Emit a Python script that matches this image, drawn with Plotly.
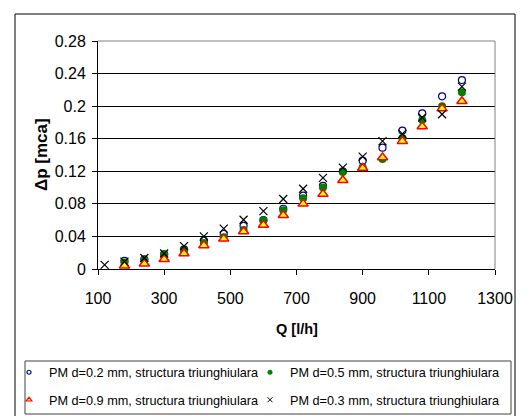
import plotly.graph_objects as go

# ---- data ----
Q = [120, 180, 240, 300, 360, 420, 480, 540, 600, 660, 720, 780, 840, 900, 960, 1020, 1080, 1140, 1200]

dp_02 = [None, 0.010, 0.012, 0.018, 0.024, 0.035, 0.043, 0.053, 0.060, 0.074, 0.090, 0.102,
         0.120, 0.133, 0.149, 0.170, 0.191, 0.212, 0.232]
dp_05 = [None, 0.008, 0.011, 0.018, 0.023, 0.032, 0.039, 0.048, 0.060, 0.072, 0.087, 0.100,
         0.119, 0.125, 0.135, 0.161, 0.183, 0.200, 0.217]
dp_09 = [None, 0.004, 0.0065, 0.012, 0.019, 0.029, 0.037, 0.046, 0.054, 0.066, 0.080, 0.092,
         0.109, 0.124, 0.137, 0.157, 0.175, 0.197, 0.206]
dp_03 = [0.005, 0.009, 0.0135, 0.019, 0.028, 0.040, 0.0495, 0.0605, 0.071, 0.086, 0.0985, 0.112,
         0.1245, 0.138, 0.157, 0.166, 0.186, 0.190, 0.224]

names = ["PM d=0.2 mm, structura triunghiulara",
         "PM d=0.5 mm, structura triunghiulara",
         "PM d=0.9 mm, structura triunghiulara",
         "PM d=0.3 mm, structura triunghiulara"]

y_tickvals = [0, 0.04, 0.08, 0.12, 0.16, 0.2, 0.24, 0.28]
y_ticktext = ["0", "0.04", "0.08", "0.12", "0.16", "0.2", "0.24", "0.28"]
x_tickvals = [100, 300, 500, 700, 900, 1100, 1300]
x_ticktext = ["100", "300", "500", "700", "900", "1100", "1300"]

x_title = "Q [l/h]"
y_title = "Δp [mca]"

# ---- geometry helpers (pixel -> paper) ----
W, H = 530, 416
L, R, T, B = 98, 495, 41, 269
def px(x):
    return (x - L) / (R - L)
def py(y):
    return (B - y) / (B - T)

FONT = "Liberation Sans, Arial, sans-serif"

styles = [
    dict(symbol="circle-open", color="#000080", size=7, line=dict(color="#000080", width=1.2)),
    dict(symbol="circle", color="#008000", size=8, line=dict(width=0)),
    dict(symbol="triangle-up", color="#FFFF00", size=9, line=dict(color="#FF0000", width=1.5)),
    dict(symbol="x-thin-open", color="#000000", size=8, line=dict(color="#000000", width=1.2)),
]
legend_styles = [
    dict(symbol="circle-open", color="#000080", size=4, line=dict(color="#000080", width=1.2)),
    dict(symbol="circle", color="#008000", size=5, line=dict(width=0)),
    dict(symbol="triangle-up", color="#FFFF00", size=5, line=dict(color="#FF0000", width=1.2)),
    dict(symbol="x-thin-open", color="#000000", size=5, line=dict(color="#000000", width=1)),
]
series = [dp_02, dp_05, dp_09, dp_03]
legend_ids = ["legend", "legend2", "legend3", "legend4"]

fig = go.Figure()
for s, st in zip(series, styles):
    fig.add_trace(go.Scatter(x=Q, y=s, mode="markers", marker=st, showlegend=False,
                             cliponaxis=False))
for name, st, lg in zip(names, legend_styles, legend_ids):
    fig.add_trace(go.Scatter(x=[None], y=[None], mode="markers", marker=st, name=name,
                             showlegend=True, legend=lg))

leg_common = dict(orientation="h", xanchor="left", yanchor="top", bgcolor="rgba(0,0,0,0)",
                  borderwidth=0, font=dict(family=FONT, size=12.7, color="#000"),
                  itemwidth=30, tracegroupgap=0)

row1, row2 = py(357.5), py(385)
col1, col2 = px(9), px(250)

fig.update_layout(
    width=W, height=H,
    margin=dict(l=L, r=W - R, t=T, b=H - B, pad=0, autoexpand=False),
    paper_bgcolor="white", plot_bgcolor="white",
    font=dict(family=FONT, size=16, color="#000"),
    legend=dict(x=col1, y=row1, **leg_common),
    legend2=dict(x=col2, y=row1, **leg_common),
    legend3=dict(x=col1, y=row2, **leg_common),
    legend4=dict(x=col2, y=row2, **leg_common),
    xaxis=dict(range=[100, 1300], tickvals=x_tickvals, ticktext=x_ticktext,
               showgrid=False, zeroline=False, showline=True, linecolor="#000", linewidth=1,
               ticks="outside", ticklen=5, tickcolor="#000", tickwidth=1,
               tickfont=dict(family=FONT, size=16, color="#000"), ticklabelstandoff=10),
    yaxis=dict(range=[0, 0.28], tickvals=y_tickvals, ticktext=y_ticktext,
               showgrid=True, gridcolor="#000", gridwidth=1, zeroline=False,
               showline=True, linecolor="#000", linewidth=1,
               ticks="outside", ticklen=5, tickcolor="#000", tickwidth=1,
               tickfont=dict(family=FONT, size=16, color="#000"), ticklabelstandoff=3),
    annotations=[
        dict(text="<b>%s</b>" % x_title, xref="paper", yref="paper", x=0.5, y=py(329),
             xanchor="center", yanchor="middle", showarrow=False,
             font=dict(family=FONT, size=14.5, color="#000")),
        dict(text="<b>%s</b>" % y_title, xref="paper", yref="paper", x=px(41), y=0.5,
             xanchor="center", yanchor="middle", showarrow=False, textangle=-90,
             font=dict(family=FONT, size=17, color="#000")),
    ],
    shapes=[
        # outer chart frame
        dict(type="rect", xref="paper", yref="paper", x0=px(15), x1=px(515), y0=py(440), y1=py(14),
             line=dict(color="#000", width=1), layer="below"),
        # plot area top / right border (grey)
        dict(type="line", xref="paper", yref="paper", x0=0, x1=1, y0=1, y1=1,
             line=dict(color="#808080", width=1)),
        dict(type="line", xref="paper", yref="paper", x0=1, x1=1, y0=0, y1=1,
             line=dict(color="#808080", width=1)),
        # legend frame
        dict(type="rect", xref="paper", yref="paper", x0=px(25), x1=px(511), y0=py(414), y1=py(361),
             line=dict(color="#404040", width=1)),
    ],
)

fig.write_html("out.html")
